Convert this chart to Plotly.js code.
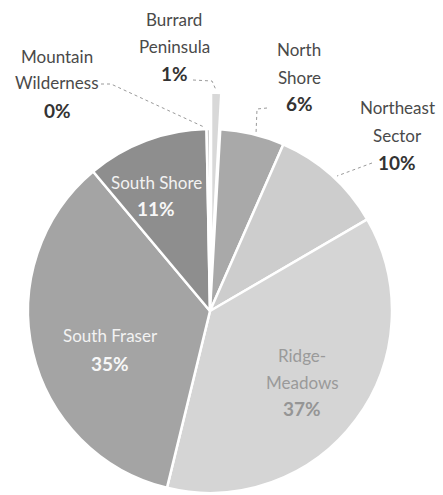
<!DOCTYPE html>
<html>
<head>
<meta charset="utf-8">
<script src="https://cdn.plot.ly/plotly-3.0.1.min.js"></script>
<style>
  html, body { margin: 0; padding: 0; overflow: hidden; background: #fff; width: 443px; height: 495px; }
  #chart { margin-left: -20px; width: 463px; height: 540px; }
</style>
</head>
<body>
<div id="chart"></div>
<script>
// ---- data ----
const regions = ['Burrard Peninsula', 'North Shore', 'Northeast Sector', 'Ridge-Meadows', 'South Fraser', 'South Shore', 'Mountain Wilderness'];
const regionLines = [['Burrard', 'Peninsula'], ['North', 'Shore'], ['Northeast', 'Sector'], ['Ridge-', 'Meadows'], ['South Fraser'], ['South Shore'], ['Mountain', 'Wilderness']];
const shares = [0.9, 5.7, 10.0, 37.2, 35.1, 10.8, 0.3];
const sliceColors = ['#d8d8d8', '#a9a9a9', '#cdcdcd', '#d5d5d5', '#a4a4a4', '#8e8e8e', '#bdbdbd'];
const pulls = [0.2, 0, 0, 0, 0, 0, 0];

// ---- layout helpers (screen pixels -> paper) ----
const W = 463, H = 540, OFF = 20;
const px = x => (x + OFF) / W;
const py = y => 1 - y / H;
const CX = 210, CY = 311, R = 182, MAXPULL = 0.2;
const HALF = R * (1 + MAXPULL);

// label placement: centre x, line y positions, colours
const labelPos = [
  {x: 174, ys: [20, 47, 73], name: '#4a4a4a', pct: '#333333'},
  {x: 299, ys: [50, 77, 103], name: '#4a4a4a', pct: '#333333'},
  {x: 397, ys: [108, 135, 162], name: '#4a4a4a', pct: '#333333'},
  {x: 302, ys: [355, 382, 408], name: '#9a9a9a', pct: '#959595'},
  {x: 110, ys: [335, 363], name: '#f2f2f2', pct: '#f7f7f7'},
  {x: 156, ys: [182, 208], name: '#f2f2f2', pct: '#f7f7f7'},
  {x: 57, ys: [57, 83, 110], name: '#4a4a4a', pct: '#333333'}
];

const leaders = [
  [[193, 80], [212, 81], [216, 90]],
  [[267, 108], [257, 109], [256, 134]],
  [[372, 163], [337, 176]],
  null, null, null,
  [[101, 84], [111, 84], [204, 127]]
];

const total = shares.reduce((a, b) => a + b, 0);
const FONT = 'Lato, "Open Sans", sans-serif';
const annotations = [];
regions.forEach((r, i) => {
  const lp = labelPos[i];
  const lines = regionLines[i];
  lines.forEach((t, j) => {
    annotations.push({xref: 'paper', yref: 'paper', x: px(lp.x), y: py(lp.ys[j]), text: t,
      showarrow: false, xanchor: 'center', yanchor: 'middle',
      font: {family: FONT, size: 17, color: lp.name}});
  });
  const pct = Math.round(shares[i] / total * 100) + '%';
  annotations.push({xref: 'paper', yref: 'paper', x: px(lp.x), y: py(lp.ys[lines.length]), text: '<b>' + pct + '</b>',
    showarrow: false, xanchor: 'center', yanchor: 'middle',
    font: {family: FONT, size: 19, color: lp.pct}});
});

const shapes = [];
leaders.forEach(l => {
  if (!l) return;
  const d = l.map((p, k) => (k ? 'L' : 'M') + px(p[0]) + ',' + py(p[1])).join(' ');
  shapes.push({type: 'path', xref: 'paper', yref: 'paper', path: d, line: {color: '#9a9a9a', width: 1, dash: 'dot'}});
});

const trace = {
  type: 'pie',
  labels: regions,
  values: shares,
  sort: false,
  direction: 'clockwise',
  rotation: 0,
  pull: pulls,
  marker: {colors: sliceColors, line: {color: '#ffffff', width: 2.5}},
  textinfo: 'none',
  hoverinfo: 'skip',
  showlegend: false,
  domain: {x: [px(CX - HALF), px(CX + HALF)], y: [py(CY + HALF), py(CY - HALF)]}
};

const layout = {
  width: W, height: H,
  margin: {l: 0, r: 0, t: 0, b: 0, pad: 0},
  paper_bgcolor: '#ffffff',
  showlegend: false,
  annotations: annotations,
  shapes: shapes
};

Plotly.newPlot('chart', [trace], layout, {displayModeBar: false, staticPlot: true});
</script>
</body>
</html>
